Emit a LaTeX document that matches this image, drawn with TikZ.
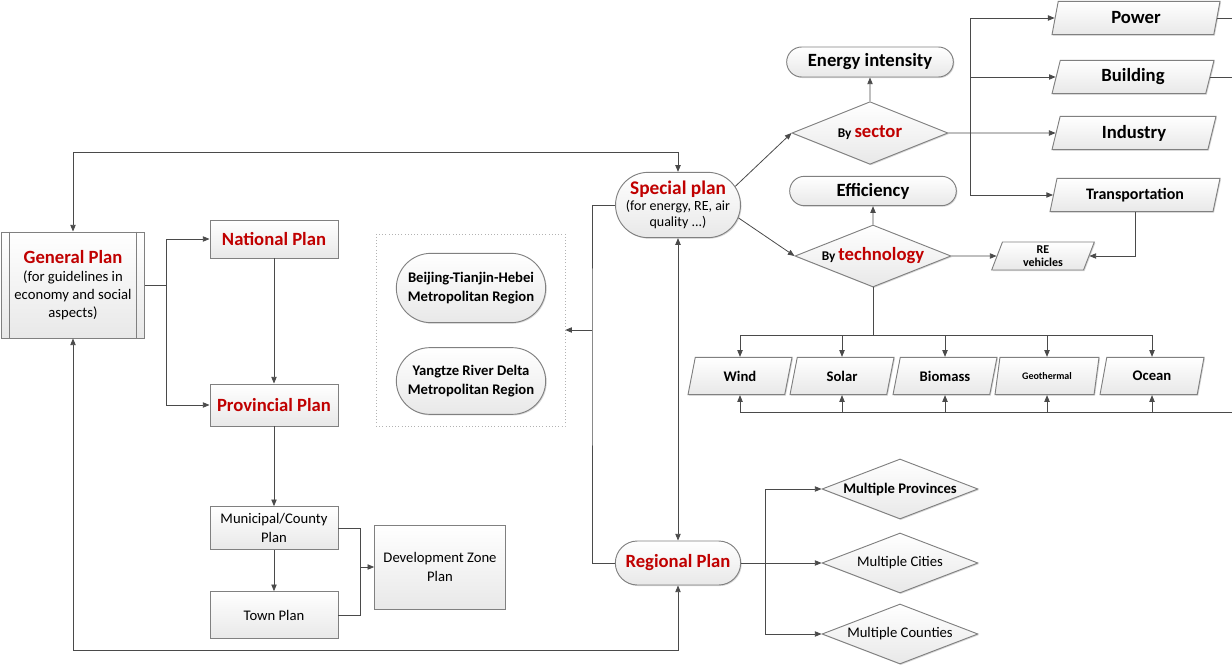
\documentclass[tikz,border=0pt]{standalone}
\usepackage{fontspec}
\setmainfont{Carlito}
\usetikzlibrary{shapes.geometric,shapes.misc,arrows.meta,shadows,positioning}

\definecolor{planred}{HTML}{C00000}
\definecolor{edgegray}{HTML}{808080}
\definecolor{wiregray}{HTML}{4A4A4A}

\tikzset{
  filled/.style={draw=edgegray, line width=0.7pt, top color=white, bottom color=black!9,
    drop shadow={shadow xshift=0.8pt, shadow yshift=-0.8pt, fill=black!30, opacity=.5},
    align=center, inner sep=1pt},
  planbox/.style={filled, rectangle, minimum width=96pt},
  pill/.style={filled, rounded rectangle},
  choice/.style={filled, diamond, aspect=2.5, inner sep=0pt, minimum width=117pt},
  slantbox/.style={filled, trapezium, trapezium left angle=63, trapezium right angle=117,
    trapezium stretches body, inner sep=0pt},
  sourcebox/.style={slantbox, trapezium left angle=55, trapezium right angle=125,
    minimum width=78pt, minimum height=28pt, font=\bfseries\fontsize{11}{13}\selectfont},
  redtitle/.style={font=\bfseries\fontsize{14}{16}\selectfont, text=planred},
  wire/.style={draw=wiregray, line width=0.6pt},
  link/.style={wire, -{Triangle[length=5pt,width=4pt]}},
  twoway/.style={wire, {Triangle[length=5pt,width=4pt]}-{Triangle[length=5pt,width=4pt]}}
}

\begin{document}
\begin{tikzpicture}[x=0.75pt,y=-0.75pt]
\useasboundingbox (0,0) rectangle (1232,667);

% hierarchy on the left
\node[planbox, minimum width=107pt, minimum height=79.5pt, font=\fontsize{11}{13.5}\selectfont] (gen) at (73,285)
  {{\bfseries\fontsize{14}{16}\selectfont\color{planred}General Plan}\\(for guidelines in\\economy and social\\aspects)};
\draw[draw=edgegray, line width=0.7pt] ([xshift=6pt]gen.north west) -- ([xshift=6pt]gen.south west);
\draw[draw=edgegray, line width=0.7pt] ([xshift=-6pt]gen.north east) -- ([xshift=-6pt]gen.south east);
\node[planbox, minimum height=28.5pt, redtitle] (nat) at (274,239) {National Plan};
\node[planbox, minimum height=31.5pt, redtitle] (prov) at (274,405) {Provincial Plan};
\node[planbox, minimum height=32pt, font=\fontsize{11}{14}\selectfont] (muni) at (274,528) {Municipal/County\\Plan};
\node[planbox, minimum height=35pt, font=\fontsize{11}{14}\selectfont] (town) at (274,615) {Town Plan};
\node[planbox, minimum width=98pt, minimum height=63pt, font=\fontsize{11}{14}\selectfont] (devz) at (440,567) {Development Zone\\Plan};

% metropolitan regions
\node[draw=black!30, dotted, minimum width=141.75pt, minimum height=144pt] (metro) at (470.5,330) {};
\node[pill, minimum width=114pt, minimum height=52pt, font=\bfseries\fontsize{11}{14}\selectfont] (btr) at (471,288) {Beijing-Tianjin-Hebei\\Metropolitan Region};
\node[pill, minimum width=114pt, minimum height=50pt, font=\bfseries\fontsize{11}{14}\selectfont] (yrd) at (471,381) {Yangtze River Delta\\Metropolitan Region};

% special and regional plans
\node[pill, minimum width=91pt, minimum height=49pt, inner xsep=0pt, font=\fontsize{10.5}{12}\selectfont] (spec) at (678,205)
  {{\bfseries\fontsize{14.5}{16}\selectfont\color{planred}Special plan}\\(for energy, RE, air\\quality ...)};
\node[pill, minimum width=96pt, minimum height=33pt, redtitle] (reg) at (678,563) {Regional Plan};

\node[choice, minimum height=45pt, font=\bfseries\fontsize{11}{13}\selectfont] (mprov) at (900,489) {Multiple Provinces};
\node[choice, minimum height=45pt, font=\fontsize{11}{13}\selectfont] (mcity) at (900,563) {Multiple Cities};
\node[choice, minimum height=45pt, font=\fontsize{11}{13}\selectfont] (mcnty) at (900,634) {Multiple Counties};

% sectors and technologies
\node[choice, minimum height=47pt, font=\bfseries\fontsize{10}{12}\selectfont] (sect) at (870,133)
  {By {\fontsize{14}{16}\selectfont\color{planred}sector}};
\node[choice, minimum height=46.5pt, font=\bfseries\fontsize{10}{12}\selectfont] (tech) at (873,256)
  {By {\fontsize{14}{16}\selectfont\color{planred}technology}};
\node[pill, minimum width=127pt, minimum height=22.5pt, font=\bfseries\fontsize{14}{16}\selectfont] (ener) at (870,62) {Energy intensity};
\node[pill, minimum width=127pt, minimum height=22pt, font=\bfseries\fontsize{14}{16}\selectfont] (effi) at (873,191) {Efficiency};

\node[slantbox, minimum width=126pt, minimum height=25pt, font=\bfseries\fontsize{14}{16}\selectfont] (power) at (1136,18) {Power};
\node[slantbox, minimum width=121.5pt, minimum height=25pt, font=\bfseries\fontsize{14}{16}\selectfont] (build) at (1133,77) {Building};
\node[slantbox, minimum width=123pt, minimum height=25pt, font=\bfseries\fontsize{14}{16}\selectfont] (indu) at (1134,133) {Industry};
\node[slantbox, minimum width=127.5pt, minimum height=25pt, font=\bfseries\fontsize{12}{14}\selectfont] (trans) at (1135,195) {Transportation};
\node[slantbox, minimum width=77pt, minimum height=21pt, font=\bfseries\fontsize{9}{10}\selectfont] (rev) at (1043,256) {RE\\vehicles};

\node[sourcebox] (wind) at (740,376) {Wind};
\node[sourcebox] (solar) at (842,376) {Solar};
\node[sourcebox] (bio) at (945,376) {Biomass};
\node[sourcebox, font=\bfseries\fontsize{7.5}{9}\selectfont] (geo) at (1047,376) {Geothermal};
\node[sourcebox] (ocean) at (1152,376) {Ocean};

% junctions and rails
\coordinate (gsplit) at (166,285);
\coordinate (dsplit) at (360,567);
\coordinate (msplit) at (592,330);
\coordinate (toprail) at (0,152);
\coordinate (botrail) at (0,650);
\coordinate (rsplit) at (765,563);
\coordinate (ssplit) at (970,133);
\coordinate (tsplit) at (873,335);
\coordinate (srail) at (1232,412);
\coordinate (rim) at (1232,0);

% connectors
\draw[wire] (gen.east) -- (gsplit);
\draw[link] (gsplit) |- (nat);
\draw[link] (gsplit) |- (prov);
\draw[link] (nat) -- (prov);
\draw[link] (prov) -- (muni);
\draw[link] (muni) -- (town);
\draw[wire] (muni.east) -| (dsplit);
\draw[wire] (town.east) -| (dsplit);
\draw[link] (dsplit) -- (devz);

\draw[twoway] (gen.north) -- (gen.north |- toprail) -| (spec.north);
\draw[twoway] (gen.south) -- (gen.south |- botrail) -| (reg.south);
\draw[twoway] (spec.south) -- (reg.north);
\draw[wire] (spec.west) -| (msplit) |- (reg.west);
\draw[link] (msplit) -- (metro.east);

\draw[wire] (reg.east) -- (rsplit);
\draw[link] (rsplit) |- (mprov);
\draw[link] (rsplit) -- (mcity);
\draw[link] (rsplit) |- (mcnty);

\draw[link] (spec.18) -- (sect.west);
\draw[link] (spec.-12) -- (tech.west);
\draw[link] (sect) -- (ener);
\draw[link] (tech) -- (effi);

\draw[link] (sect.east) -- (indu);
\draw[link] (ssplit) |- (power);
\draw[link] (ssplit) |- (build);
\draw[link] (ssplit) |- (trans);
\draw[wire] (power.east) -- (power.east -| rim);
\draw[wire] (build.east) -- (build.east -| rim);
\draw[link] (trans.south) |- (rev.east);
\draw[link] (tech.east) -- (rev);

\draw[wire] (tech.south) -- (tsplit);
\foreach \src in {wind,solar,bio,geo,ocean}{
  \draw[link] (tsplit) -| (\src.north);
  \draw[link] (srail) -| (\src.south);
}
\end{tikzpicture}
\end{document}
